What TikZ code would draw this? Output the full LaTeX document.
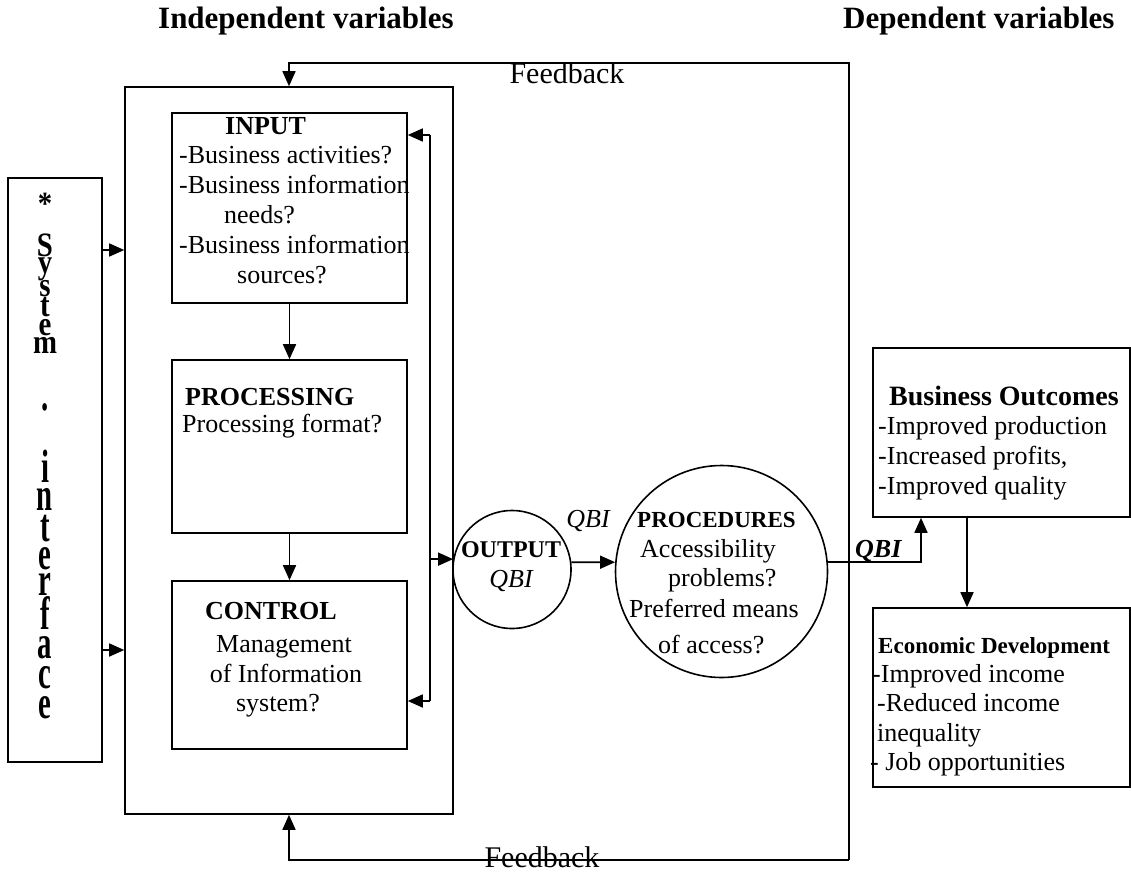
\documentclass[tikz,border=0pt]{standalone}
\usepackage{fontspec}
\usepackage{graphicx}
\setmainfont{Liberation Serif}
\usetikzlibrary{arrows.meta}

\newcommand{\fsz}[1]{\fontsize{#1}{#1}\selectfont}

\begin{document}
\begin{tikzpicture}[x=1pt,y=-1pt,
  box/.style={draw,line width=1.6pt,inner sep=0pt},
  line/.style={line width=1.6pt},
  conn/.style={line width=1.6pt,-{Triangle[length=15pt,width=13pt]}},
  t/.style={inner sep=0pt,anchor=base west,font=\fsz{26}},
  tc/.style={inner sep=0pt,anchor=base,font=\fsz{26}},
  tb/.style={inner sep=0pt,anchor=base west,font=\fsz{26}\bfseries},
  head/.style={inner sep=0pt,anchor=base west,font=\fsz{31}\bfseries},
  sysletter/.style={inner sep=0pt,anchor=base,font=\fsz{36}\bfseries},
]
\useasboundingbox (0,0) rectangle (1131,872);

% headers
\node[head] (hind) at (158,29) {Independent variables};
\node[head] (hdep) at (843,29) {Dependent variables};

% system interface column: one letter per line
\node[box,minimum width=94pt,minimum height=584pt] (sys) at (55,470) {};
\node[sysletter] (sast) at (45,214) {\scalebox{0.8}[0.9]{*}};
\foreach \ch/\yy [count=\i] in {S/256,y/273,s/296,t/316,e/335,m/353}
  \node[sysletter] (su\i) at (45,\yy) {\scalebox{0.8}[0.95]{\ch}};
\node[sysletter] (sdot) at (45,410) {\scalebox{0.8}[1.3]{.}};
\foreach \ch/\yy [count=\i] in {i/482,n/510,t/541,e/569,r/595,f/629,a/658,c/688,e/718}
  \node[sysletter] (sd\i) at (45,\yy) {\scalebox{0.8}[1.3]{\ch}};

% outer system boundary
\node[box,minimum width=328pt,minimum height=727pt] (outer) at (289,450.5) {};

% input / processing / control boxes
\node[box,minimum width=235pt,minimum height=190pt] (input) at (289.5,208) {};
\node[box,minimum width=235pt,minimum height=173pt] (proc) at (289.5,446.5) {};
\node[box,minimum width=235pt,minimum height=168pt] (control) at (289.5,665) {};

\node[tb] (inT) at (225,134) {INPUT};
\node[t] (in1) at (179,163) {-Business activities?};
\node[t] (in2) at (179,193) {-Business information};
\node[t] (in3) at (224,223) {needs?};
\node[t] (in4) at (179,253) {-Business information};
\node[t] (in5) at (237,283) {sources?};

\node[tb] (prT) at (185,405) {PROCESSING};
\node[t] (pr1) at (182,432) {Processing format?};

\node[tb] (coT) at (205,619) {CONTROL};
\node[tc] (co1) at (284,652) {Management};
\node[tc] (co2) at (286,682) {of Information};
\node[tc] (co3) at (278,711) {system?};

% output and procedures circles
\node[box,circle,minimum size=118pt] (out) at (512,569.5) {};
\node[box,circle,minimum size=212pt] (procd) at (721.5,571.5) {};

\node[inner sep=0pt,anchor=base,font=\fsz{24}\bfseries] (outT) at (511,557) {OUTPUT};
\node[tc,font=\fsz{26}\itshape] (outQ) at (511,587) {QBI};
\node[tc,font=\fsz{26}\itshape] (midQ) at (588,527) {QBI};

\node[inner sep=0pt,anchor=base west,font=\fsz{23}\bfseries] (pdT) at (637,527) {PROCEDURES};
\node[t] (pd1) at (640,557) {Accessibility};
\node[t] (pd2) at (668,586) {problems?};
\node[t] (pd3) at (629,617) {Preferred means};
\node[t] (pd4) at (658,653) {of access?};

% dependent variables
\node[box,minimum width=257pt,minimum height=169pt] (bo) at (1001.5,432.5) {};
\node[box,minimum width=257pt,minimum height=179pt] (ed) at (1001.5,697.5) {};

\node[inner sep=0pt,anchor=base west,font=\fsz{28}\bfseries] (boT) at (889,405) {Business Outcomes};
\node[t] (bo1) at (878,434) {-Improved production};
\node[t] (bo2) at (878,464) {-Increased profits,};
\node[t] (bo3) at (878,494) {-Improved quality};

\node[inner sep=0pt,anchor=base west,font=\fsz{23}\bfseries] (edT) at (878,653) {Economic Development};
\node[t] (ed1) at (872,682) {-Improved income};
\node[t] (ed2) at (877,711) {-Reduced income};
\node[t] (ed3) at (877,741) {inequality};
\node[t] (ed4) at (870,770) {- Job opportunities};

\node[inner sep=0pt,anchor=base west,font=\fsz{26}\bfseries\itshape] (rQ) at (855,557) {QBI};

% feedback labels
\node[inner sep=0pt,anchor=base,font=\fsz{30}] (fbT) at (567,84) {Feedback};
\node[inner sep=0pt,anchor=base,font=\fsz{30}] (fbB) at (542,867) {Feedback};

% connector helpers
\coordinate (s1) at (0,250);
\coordinate (s2) at (0,650);
\coordinate (fi1) at (430,135);
\coordinate (fi2) at (430,701);
\coordinate (fr1) at (849,63);
\coordinate (fr2) at (849,860);
\coordinate (qx) at (921,0);
\coordinate (ex) at (967,0);

% system interface into the system
\draw[conn] (sys.east |- s1) -- (outer.west |- s1);
\draw[conn] (sys.east |- s2) -- (outer.west |- s2);

% internal flow
\draw[conn] (input.south) -- (proc.north);
\draw[conn] (proc.south) -- (control.north);

% inner feedback loop and output
\draw[line] (fi1) -- (fi2);
\draw[conn] (fi1) -- (input.east |- fi1);
\draw[conn] (fi2) -- (control.east |- fi2);
\draw[conn] (fi1 |- out.170) -- (out.170);
\draw[conn] (out.7) -- (procd.175);

% to outcomes
\draw[conn] (procd.5) -| (qx |- bo.south);
\draw[conn] (ex |- bo.south) -- (ex |- ed.north);

% outer feedback loop
\draw[conn] (fr2) -- (fr1) -| (outer.north);
\draw[conn] (fr2) -| (outer.south);
\end{tikzpicture}
\end{document}
